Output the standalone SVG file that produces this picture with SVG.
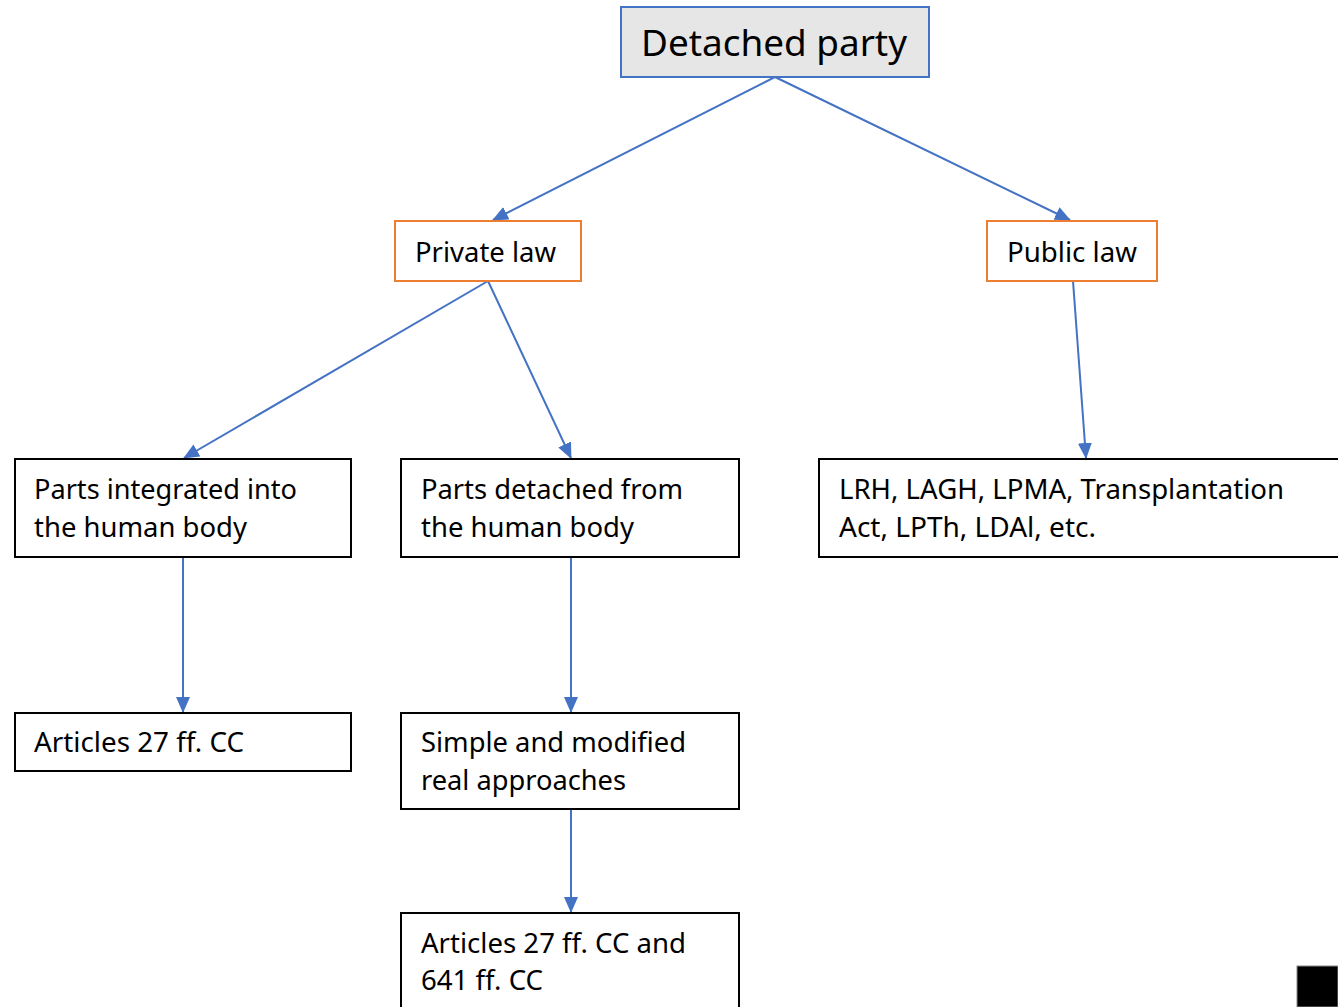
<svg xmlns="http://www.w3.org/2000/svg" width="1338" height="1007" viewBox="0 0 1338 1007">
<style>
text{font-family:"Noto Sans","Open Sans","Liberation Sans",sans-serif;fill:#000;font-size:27px}
.big{font-size:37px}
.box{fill:#fff;stroke:#000;stroke-width:2}
.org{fill:#fff;stroke:#ed7d31;stroke-width:2}
.conn line{stroke:#4472c4;stroke-width:2;marker-end:url(#ah)}
</style>
<defs>
<marker id="ah" markerUnits="userSpaceOnUse" markerWidth="16" markerHeight="14" refX="15" refY="7" orient="auto">
<path d="M0,0 L16,7 L0,14 Z" fill="#4472c4"/>
</marker>
</defs>
<rect width="1338" height="1007" fill="#fff"/>
<g class="conn">
<line x1="775" y1="77" x2="493" y2="220"/>
<line x1="775" y1="77" x2="1070" y2="220"/>
<line x1="488" y1="281" x2="184" y2="458"/>
<line x1="488" y1="281" x2="571" y2="458"/>
<line x1="1073" y1="281" x2="1086" y2="458"/>
<line x1="183" y1="557" x2="183" y2="712"/>
<line x1="571" y1="557" x2="571" y2="712"/>
<line x1="571" y1="809" x2="571" y2="912"/>
</g>
<g id="detached-party">
<rect x="621" y="7" width="308" height="70" fill="#e6e6e6" stroke="#4472c4" stroke-width="2"/>
<text class="big" x="641" y="56" textLength="266" lengthAdjust="spacingAndGlyphs">Detached party</text>
</g>
<g id="private-law">
<rect class="org" x="395" y="221" width="186" height="60"/>
<text x="415" y="262" textLength="141" lengthAdjust="spacingAndGlyphs">Private law</text>
</g>
<g id="public-law">
<rect class="org" x="987" y="221" width="170" height="60"/>
<text x="1007" y="262" textLength="130" lengthAdjust="spacingAndGlyphs">Public law</text>
</g>
<g id="parts-integrated">
<rect class="box" x="15" y="459" width="336" height="98"/>
<text x="34" y="499" textLength="263" lengthAdjust="spacingAndGlyphs">Parts integrated into</text>
<text x="34" y="537" textLength="213" lengthAdjust="spacingAndGlyphs">the human body</text>
</g>
<g id="parts-detached">
<rect class="box" x="401" y="459" width="338" height="98"/>
<text x="421" y="499" textLength="262" lengthAdjust="spacingAndGlyphs">Parts detached from</text>
<text x="421" y="537" textLength="213" lengthAdjust="spacingAndGlyphs">the human body</text>
</g>
<g id="public-acts">
<rect class="box" x="819" y="459" width="530" height="98"/>
<text x="839" y="499" textLength="445" lengthAdjust="spacingAndGlyphs">LRH, LAGH, LPMA, Transplantation</text>
<text x="839" y="537" textLength="257" lengthAdjust="spacingAndGlyphs">Act, LPTh, LDAl, etc.</text>
</g>
<g id="articles-27">
<rect class="box" x="15" y="713" width="336" height="58"/>
<text x="34" y="752" textLength="210" lengthAdjust="spacingAndGlyphs">Articles 27 ff. CC</text>
</g>
<g id="simple-modified">
<rect class="box" x="401" y="713" width="338" height="96"/>
<text x="421" y="752" textLength="265" lengthAdjust="spacingAndGlyphs">Simple and modified</text>
<text x="421" y="790" textLength="205" lengthAdjust="spacingAndGlyphs">real approaches</text>
</g>
<g id="articles-27-641">
<rect class="box" x="401" y="913" width="338" height="110"/>
<text x="421" y="953" textLength="265" lengthAdjust="spacingAndGlyphs">Articles 27 ff. CC and</text>
<text x="421" y="990" textLength="122" lengthAdjust="spacingAndGlyphs">641 ff. CC</text>
</g>
<rect x="1297" y="966" width="41" height="41" fill="#000" stroke="#888" stroke-width="1"/>
</svg>
